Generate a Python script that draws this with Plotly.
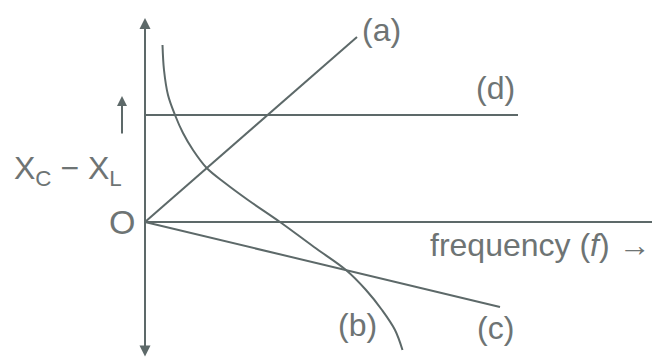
import plotly.graph_objects as go

# --- values (origin O = (0, 0)) ---
line_a_f = [0, 212]
line_a_y = [0, 185]

curve_b_f = [17.5, 19, 23, 30, 38, 48, 61.7, 80, 103, 135, 169, 201, 221, 237, 250, 257.5]
curve_b_y = [177, 152, 127, 107, 89, 72, 54, 39, 22, 0, -25, -48, -68, -88, -108, -128]

line_c_f = [0, 355]
line_c_y = [0, -85]

line_d_f = [0, 373]
line_d_y = [107, 107]

freq_axis_end = 507
y_axis_top = 204
y_axis_bottom = -136

line_col = "#5d6969"
text_col = "#6e7474"
font_name = "Liberation Sans, Arial, sans-serif"

fig = go.Figure()

def add_line(xs, ys, shape="linear"):
    fig.add_trace(go.Scatter(x=xs, y=ys, mode="lines",
                             line=dict(color=line_col, width=2, shape=shape, smoothing=1.0),
                             showlegend=False, hoverinfo="skip"))

add_line(line_a_f, line_a_y)
add_line(curve_b_f, curve_b_y, shape="spline")
add_line(line_c_f, line_c_y)
add_line(line_d_f, line_d_y)
add_line([0, freq_axis_end], [0, 0])

# vertical axis, arrows at both ends
fig.add_annotation(x=0, y=y_axis_top, ax=0, ay=y_axis_bottom, xref="x", yref="y", axref="x", ayref="y",
                   text="", showarrow=True, arrowhead=2, arrowside="end+start", arrowsize=1.1,
                   arrowwidth=2, arrowcolor=line_col)
# small arrow next to the y label
fig.add_annotation(x=-23, y=126, ax=-23, ay=87, xref="x", yref="y", axref="x", ayref="y",
                   text="", showarrow=True, arrowhead=2, arrowsize=1, arrowwidth=2, arrowcolor=line_col)

labels = [
    ("(a)", 236, 192, 32),
    ("(d)", 350, 134, 32),
    ("(b)", 212, -103, 32),
    ("(c)", 350, -106, 32),
    ("O", -23, 0, 34),
]
for txt, x, y, s in labels:
    fig.add_annotation(x=x, y=y, text=txt, showarrow=False, font=dict(size=s, color=text_col, family=font_name))

fig.add_annotation(x=-77, y=52, text="X<sub>C</sub> − X<sub>L</sub>", showarrow=False,
                   font=dict(size=32, color=text_col, family=font_name))
fig.add_annotation(x=283, y=-23, text="frequency (<i>f</i>) →", showarrow=False, xanchor="left",
                   font=dict(size=32, color=text_col, family=font_name))

# ranges offset by the page's 8px body margin so O lands at (145, 222) on screen
fig.update_xaxes(visible=False, range=[-137, 523], fixedrange=True)
fig.update_yaxes(visible=False, range=[-146, 214], fixedrange=True)
fig.update_layout(width=660, height=360, margin=dict(l=0, r=0, t=0, b=0),
                  plot_bgcolor="white", paper_bgcolor="white")

fig.write_html("out.html", config={"displayModeBar": False})
